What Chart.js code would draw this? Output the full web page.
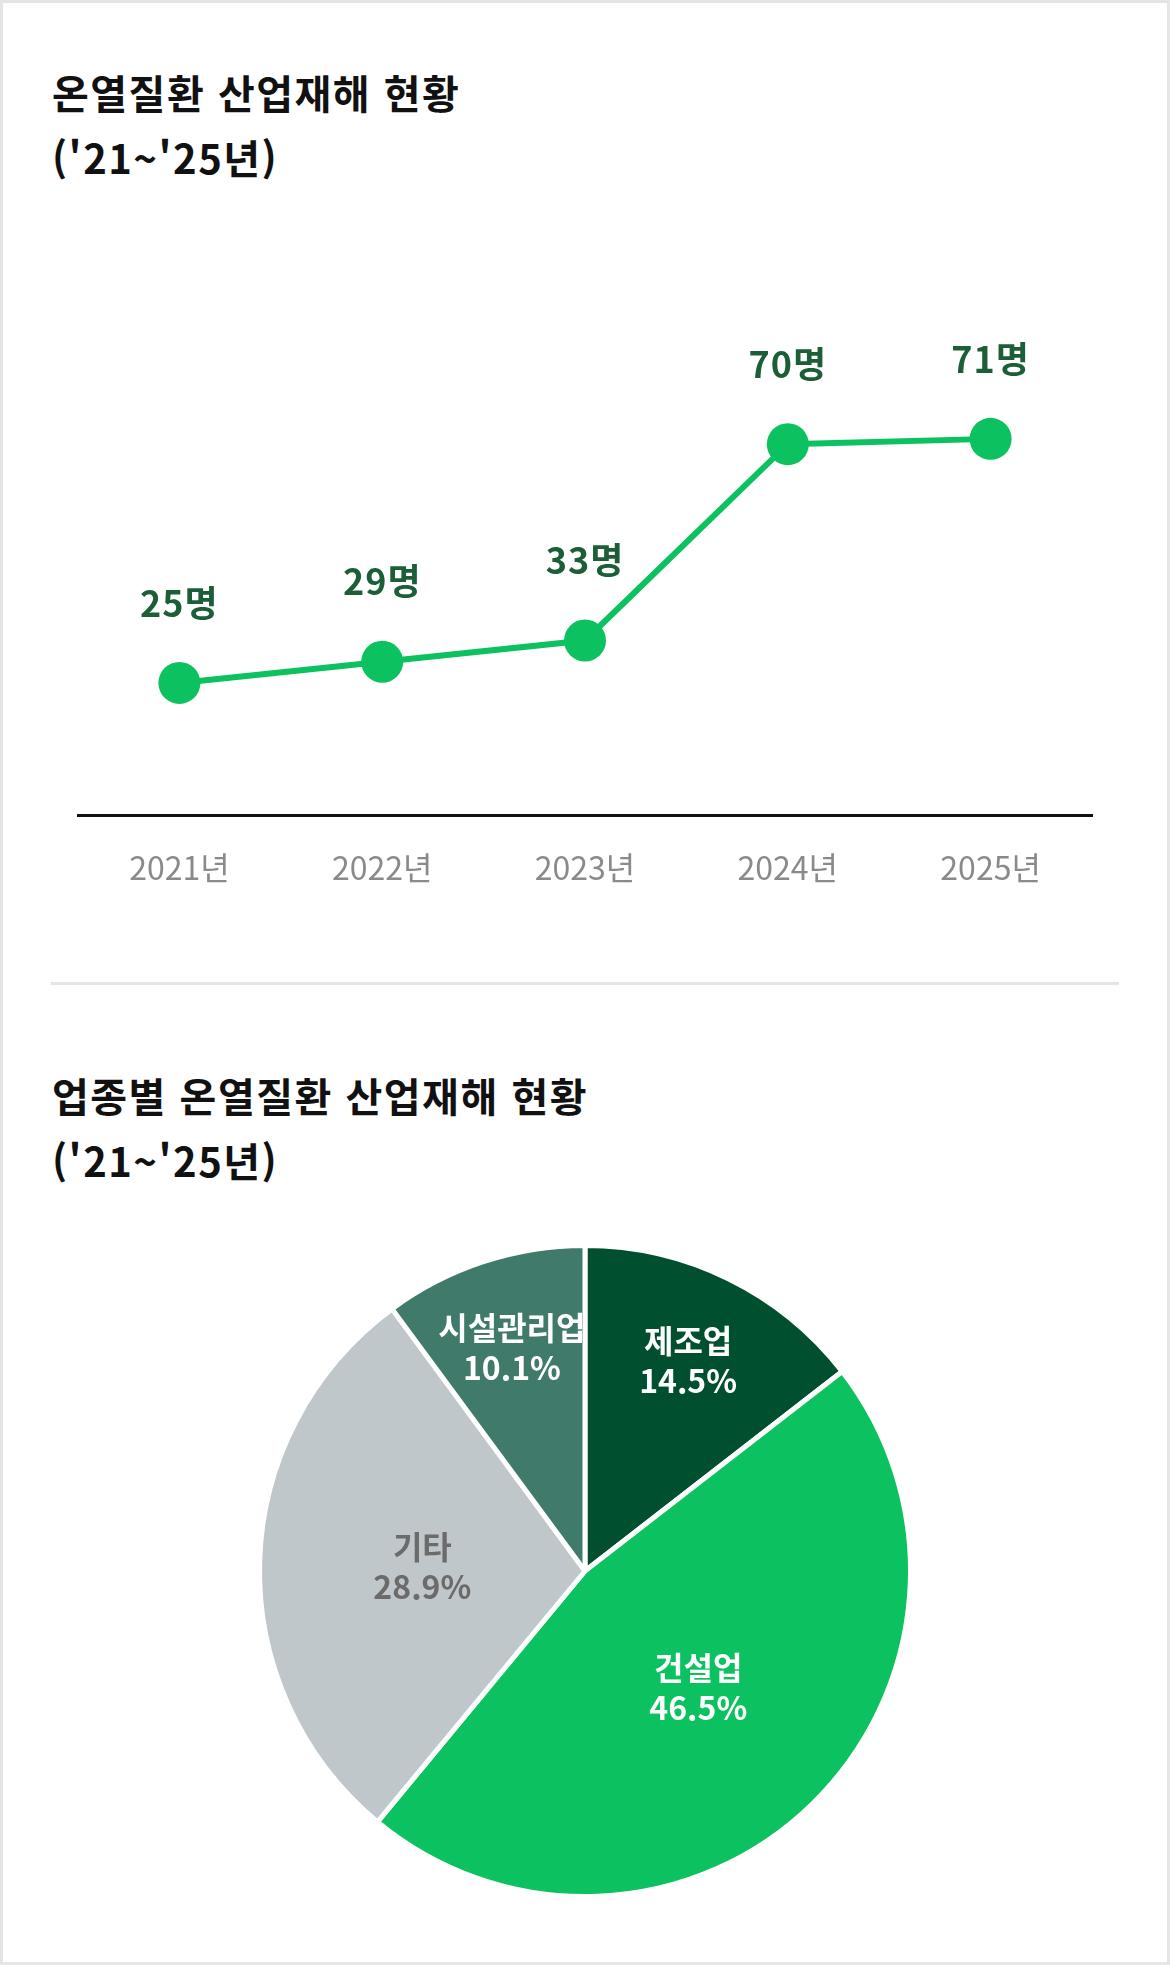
<!DOCTYPE html>
<html lang="ko">
<head>
<meta charset="utf-8">
<title>온열질환 산업재해 현황</title>
<script src="https://cdn.jsdelivr.net/npm/chart.js@4.4.1/dist/chart.umd.min.js"></script>
<style>
  html, body {
    margin: 0;
    padding: 0;
    background: #fff;
  }
  .card {
    position: relative;
    width: 1170px;
    height: 1965px;
    box-sizing: border-box;
    border: 3px solid #e5e5e5;
    background: #fff;
    font-family: "Noto Sans CJK KR", "Noto Sans", sans-serif;
    overflow: hidden;
  }
  .title {
    position: absolute;
    left: 49px;
    margin: 0;
    font-size: 40px;
    line-height: 65px;
    font-weight: 700;
    color: #111;
    letter-spacing: 1.5px;
  }
  .divider {
    position: absolute;
    left: 48px;
    top: 979px;
    width: 1068px;
    height: 3px;
    background: #e5e5e5;
  }
  .chart-box {
    position: absolute;
    left: -3px;
    width: 1170px;
  }
</style>
</head>
<body>
<div class="card">
  <h2 class="title" style="top:57px">온열질환 산업재해 현황<br>('21~'25년)</h2>
  <div class="chart-box" style="top:197px;height:736px">
    <canvas id="lineChart"></canvas>
  </div>
  <div class="divider"></div>
  <h2 class="title" style="top:1060px">업종별 온열질환 산업재해 현황<br>('21~'25년)</h2>
  <div class="chart-box" style="top:1240px;height:656px">
    <canvas id="pieChart"></canvas>
  </div>
</div>

<script>
// yearly cases
const years = ["2021년", "2022년", "2023년", "2024년", "2025년"];
const cases = [25, 29, 33, 70, 71];

// share by industry (%)
const industries = ["제조업", "건설업", "기타", "시설관리업"];
const shares = [14.5, 46.5, 28.9, 10.1];

const GREEN = "#0cc15f";
const sliceColors = ["#00502f", "#0cc15f", "#c0c7cb", "#3f7a6a"];
const sliceTextColors = ["#ffffff", "#ffffff", "#6b6b6b", "#ffffff"];
const FONT = "'Noto Sans CJK KR', 'Noto Sans', sans-serif";

// draws "25명" above every point
const pointLabels = {
  id: "pointLabels",
  afterDatasetsDraw(chart) {
    const ctx = chart.ctx;
    const meta = chart.getDatasetMeta(0);
    ctx.save();
    ctx.font = "700 36px " + FONT;
    ctx.letterSpacing = "1px";
    ctx.fillStyle = "#1b5e37";
    ctx.textAlign = "center";
    ctx.textBaseline = "middle";
    meta.data.forEach((pt, i) => {
      ctx.fillText(cases[i] + "명", pt.x, pt.y - 80);
    });
    ctx.restore();
  },
};

// draws name + percent inside every slice
const sliceLabels = {
  id: "sliceLabels",
  afterDatasetsDraw(chart) {
    const ctx = chart.ctx;
    const meta = chart.getDatasetMeta(0);
    ctx.save();
    ctx.font = "700 32px " + FONT;
    ctx.textAlign = "center";
    ctx.textBaseline = "middle";
    meta.data.forEach((arc, i) => {
      const p = arc.getProps(["x", "y", "startAngle", "endAngle", "outerRadius"], true);
      const mid = (p.startAngle + p.endAngle) / 2;
      const r = p.outerRadius * (shares[i] < 20 ? 0.72 : 0.5);
      const x = p.x + Math.cos(mid) * r;
      const y = p.y + Math.sin(mid) * r;
      ctx.fillStyle = sliceTextColors[i];
      ctx.fillText(industries[i], x, y - 20);
      ctx.fillText(shares[i].toFixed(1) + "%", x, y + 20);
    });
    ctx.restore();
  },
};

new Chart(document.getElementById("lineChart"), {
  type: "line",
  data: {
    labels: years,
    datasets: [
      {
        data: cases,
        borderColor: GREEN,
        borderWidth: 6,
        backgroundColor: GREEN,
        pointBackgroundColor: GREEN,
        pointBorderWidth: 0,
        pointRadius: 21,
        pointHoverRadius: 21,
        tension: 0,
        clip: false,
      },
    ],
  },
  options: {
    responsive: true,
    maintainAspectRatio: false,
    animation: false,
    events: [],
    layout: { padding: { left: 78, right: 78, top: 85, bottom: 16 } },
    plugins: {
      legend: { display: false },
      tooltip: { enabled: false },
    },
    scales: {
      x: {
        offset: true,
        grid: { display: false, drawTicks: false },
        border: { display: true, color: "#111", width: 3 },
        ticks: {
          color: "#8a8a8a",
          padding: 33,
          font: { family: FONT, size: 32 },
        },
      },
      y: {
        display: false,
        min: 0,
        max: 100,
      },
    },
  },
  plugins: [pointLabels],
});

new Chart(document.getElementById("pieChart"), {
  type: "pie",
  data: {
    labels: industries,
    datasets: [
      {
        data: shares,
        backgroundColor: sliceColors,
        borderColor: "#ffffff",
        borderWidth: 5,
      },
    ],
  },
  options: {
    responsive: true,
    maintainAspectRatio: false,
    animation: false,
    events: [],
    layout: { padding: 0 },
    plugins: {
      legend: { display: false },
      tooltip: { enabled: false },
    },
  },
  plugins: [sliceLabels],
});
</script>
</body>
</html>
